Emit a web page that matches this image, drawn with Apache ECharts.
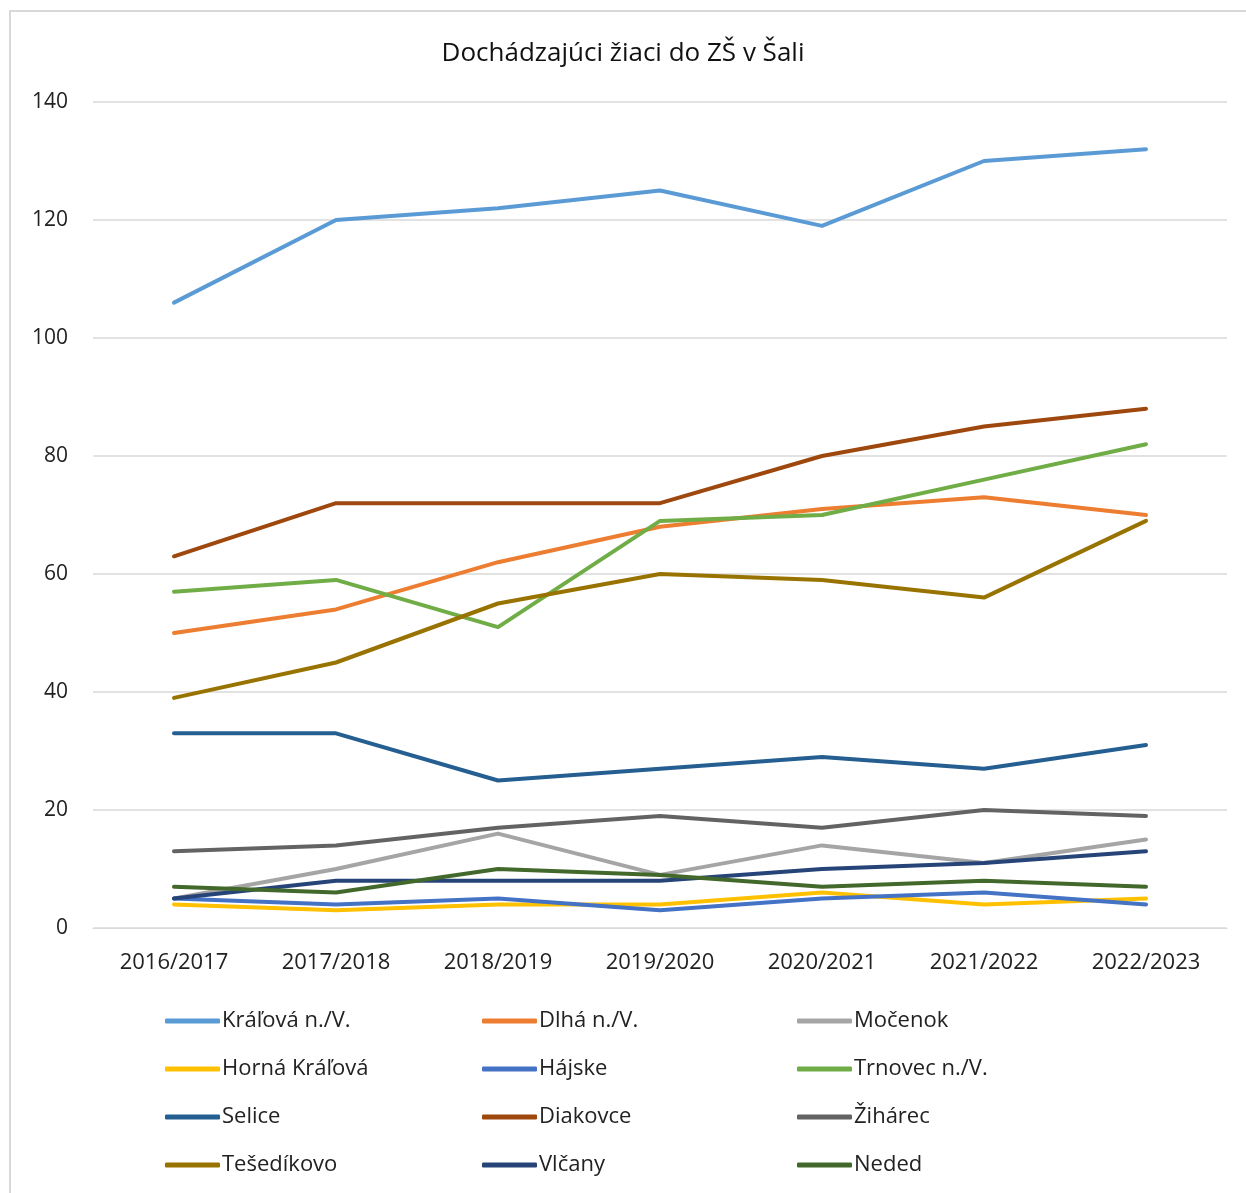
<!DOCTYPE html>
<html>
<head>
<meta charset="utf-8">
<script src="https://cdn.jsdelivr.net/npm/echarts@6/dist/echarts.min.js"></script>
<style>
  html, body { margin: 0; padding: 0; background: #fff; }
  #chart { width: 1246px; height: 1193px; }
</style>
</head>
<body>
<div id="chart"></div>
<script>
// roky
const years = ['2016/2017', '2017/2018', '2018/2019', '2019/2020', '2020/2021', '2021/2022', '2022/2023']

// počty žiakov podľa obce
const kralova = [106, 120, 122, 125, 119, 130, 132]
const dlha = [50, 54, 62, 68, 71, 73, 70]
const mocenok = [5, 10, 16, 9, 14, 11, 15]
const hornaKralova = [4, 3, 4, 4, 6, 4, 5]
const hajske = [5, 4, 5, 3, 5, 6, 4]
const trnovec = [57, 59, 51, 69, 70, 76, 82]
const selice = [33, 33, 25, 27, 29, 27, 31]
const diakovce = [63, 72, 72, 72, 80, 85, 88]
const ziharec = [13, 14, 17, 19, 17, 20, 19]
const tesedikovo = [39, 45, 55, 60, 59, 56, 69]
const vlcany = [5, 8, 8, 8, 10, 11, 13]
const neded = [7, 6, 10, 9, 7, 8, 7]

const yTicks = [0, 20, 40, 60, 80, 100, 120, 140]

const seriesDefs = [
  { name: 'Kráľová n./V.', data: kralova, color: '#5B9BD5' },
  { name: 'Dlhá n./V.', data: dlha, color: '#ED7D31' },
  { name: 'Močenok', data: mocenok, color: '#A5A5A5' },
  { name: 'Horná Kráľová', data: hornaKralova, color: '#FFC000' },
  { name: 'Hájske', data: hajske, color: '#4472C4' },
  { name: 'Trnovec n./V.', data: trnovec, color: '#70AD47' },
  { name: 'Selice', data: selice, color: '#255E91' },
  { name: 'Diakovce', data: diakovce, color: '#9E480E' },
  { name: 'Žihárec', data: ziharec, color: '#636363' },
  { name: 'Tešedíkovo', data: tesedikovo, color: '#997300' },
  { name: 'Vlčany', data: vlcany, color: '#264478' },
  { name: 'Neded', data: neded, color: '#43682B' }
]

const font = 'Open Sans, Noto Sans, sans-serif'

// legenda v troch stĺpcoch
const legendCol = (idx, left) => ({
  orient: 'vertical',
  left: left,
  top: 1010,
  padding: 0,
  itemWidth: 55,
  itemHeight: 5,
  itemGap: 26,
  icon: 'roundRect',
  data: seriesDefs.filter((s, i) => i % 3 === idx).map(s => s.name),
  textStyle: { fontFamily: font, fontSize: 22, color: '#222', padding: [0, 0, 0, -3], lineHeight: 22 }
})

const chart = echarts.init(document.getElementById('chart'))

chart.setOption({
  animation: false,
  backgroundColor: '#fff',
  graphic: [{
    type: 'rect',
    shape: { x: 10, y: 11, width: 1300, height: 1300 },
    style: { fill: 'none', stroke: '#d9d9d9', lineWidth: 2 },
    silent: true
  }],
  title: {
    text: 'Dochádzajúci žiaci do ZŠ v Šali',
    left: 'center',
    top: 36,
    textStyle: { fontFamily: font, fontSize: 26, fontWeight: 'normal', color: '#111' }
  },
  legend: [legendCol(0, 165), legendCol(1, 482), legendCol(2, 797)],
  grid: { left: 93, right: 19, top: 102, bottom: 265 },
  xAxis: {
    type: 'category',
    data: years,
    boundaryGap: true,
    axisLine: { lineStyle: { color: '#d9d9d9' } },
    axisTick: { show: false },
    axisLabel: { fontFamily: font, fontSize: 22, color: '#222', margin: 24 }
  },
  yAxis: {
    type: 'value',
    min: yTicks[0],
    max: yTicks[yTicks.length - 1],
    interval: 20,
    axisLine: { show: false },
    axisTick: { show: false },
    axisLabel: { fontFamily: font, fontSize: 21, color: '#222', margin: 25 },
    splitLine: { lineStyle: { color: '#d9d9d9', width: 1.5 } }
  },
  series: seriesDefs.map(s => ({
    name: s.name,
    type: 'line',
    data: s.data,
    showSymbol: false,
    symbol: 'none',
    color: s.color,
    lineStyle: { width: 4, color: s.color, cap: 'round', join: 'round' }
  }))
})
</script>
</body>
</html>
